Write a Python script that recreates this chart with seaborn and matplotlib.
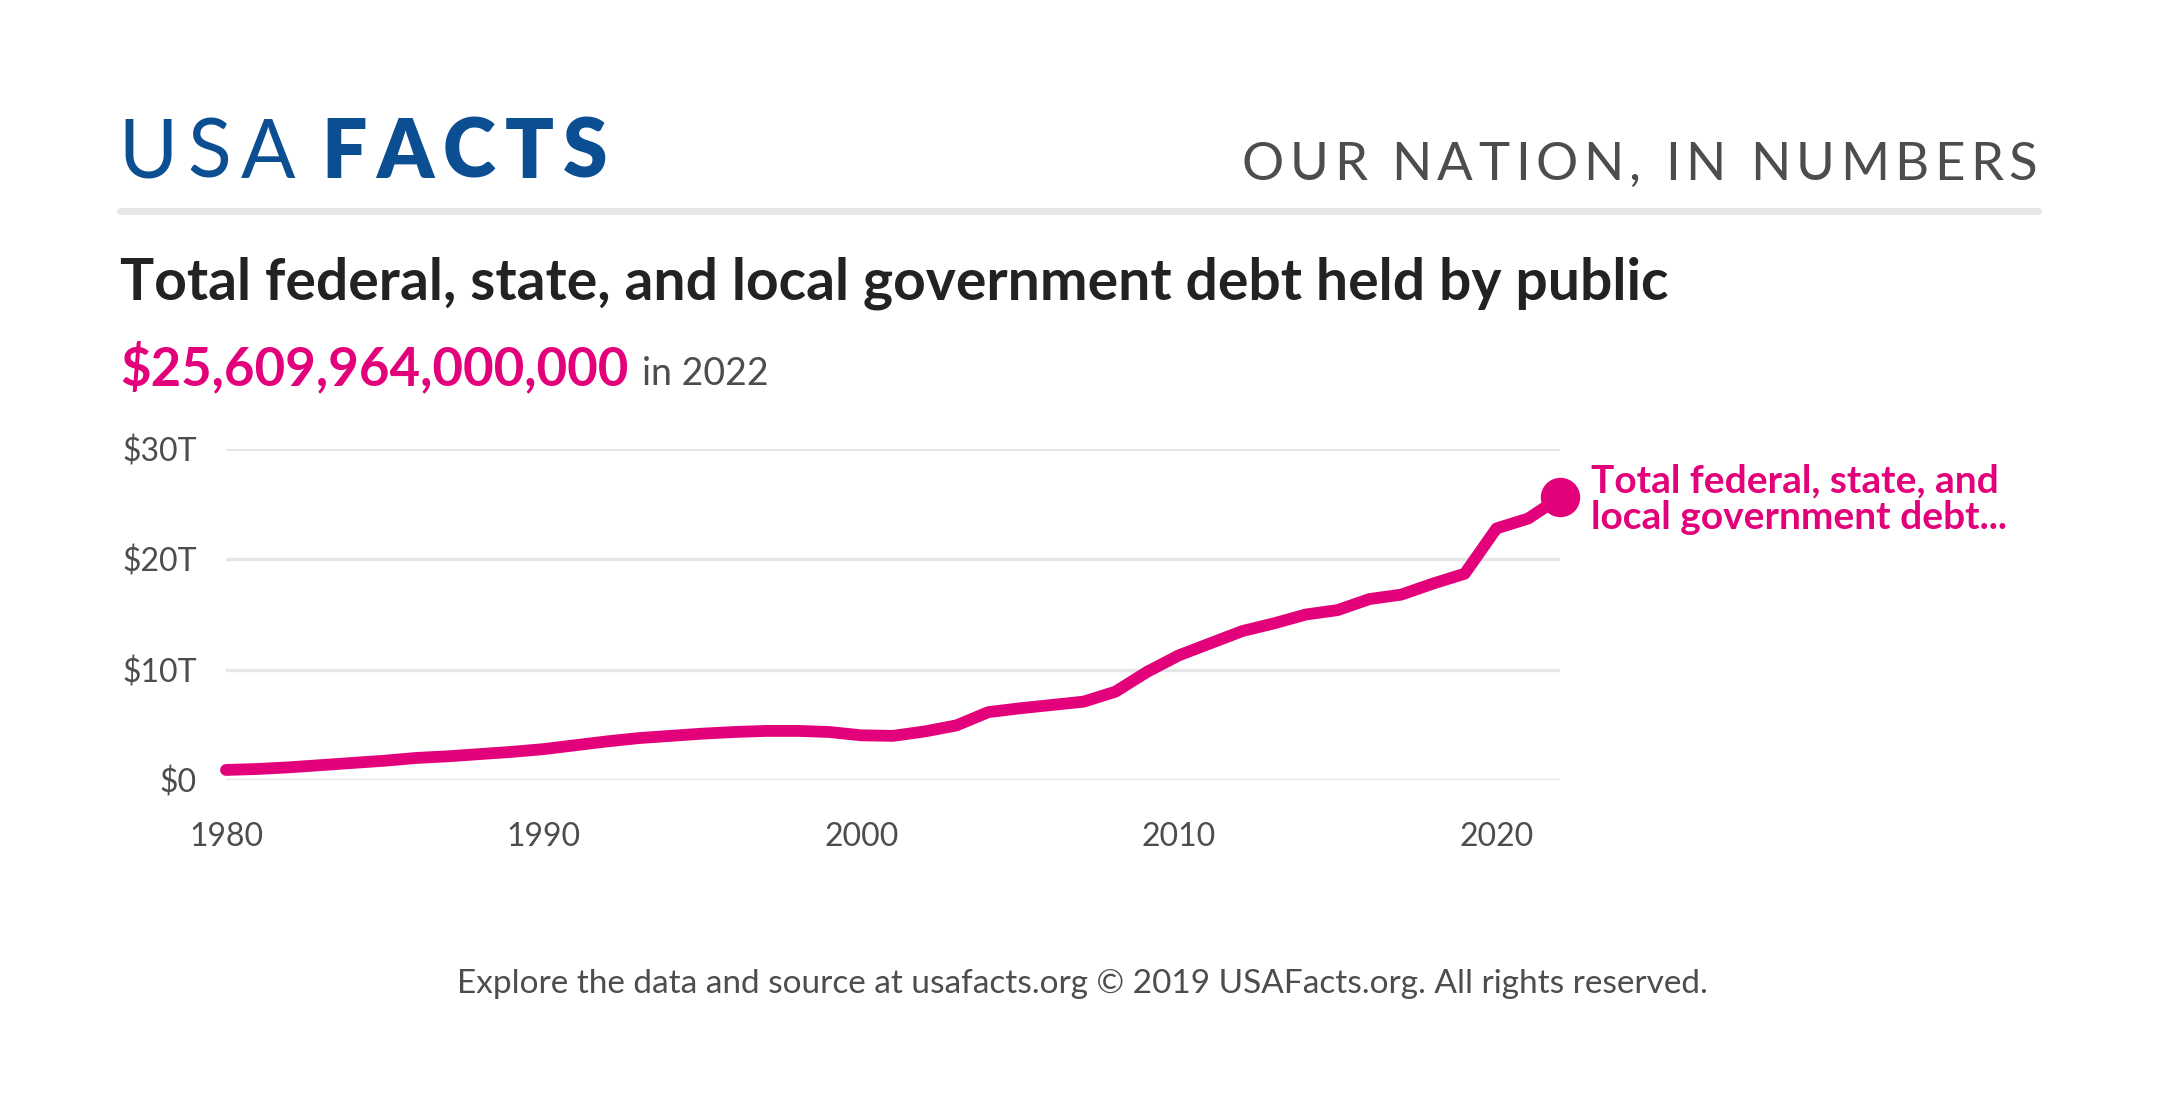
import matplotlib
matplotlib.use("Agg")
import matplotlib.pyplot as plt
import seaborn as sns
import pandas as pd

years = list(range(1980, 2023))
debt_trillions = [0.91, 1.0, 1.15, 1.35, 1.55, 1.75, 2.0, 2.15, 2.35, 2.55,
                  2.8, 3.15, 3.5, 3.8, 4.0, 4.2, 4.35, 4.45, 4.45, 4.35,
                  4.05, 4.0, 4.4, 4.95, 6.15, 6.5, 6.8, 7.1, 8.0, 9.8,
                  11.3, 12.4, 13.5, 14.2, 15.0, 15.4, 16.4, 16.8, 17.8, 18.7,
                  22.8, 23.7, 25.61]
y_ticks = [0, 10, 20, 30]
y_tick_labels = ["$0", "$10T", "$20T", "$30T"]
x_ticks = [1980, 1990, 2000, 2010, 2020]

PINK = "#e3007b"
BLUE = "#0b4f92"
DARK = "#222222"
GRAY = "#4d4d4d"

sns.set_theme(style="white")
plt.rcParams['font.family'] = ['Lato', 'DejaVu Sans']

df = pd.DataFrame({"year": years, "debt": debt_trillions})

W, H = 2160, 1107
fig = plt.figure(figsize=(W / 100, H / 100), dpi=100)
ax = fig.add_axes([226 / W, 1 - 780 / H, (1560 - 226) / W, (780 - 449) / H])

for t in y_ticks:
    ax.axhline(t, color="#e6e6e6", lw=2.4, zorder=0)

sns.lineplot(data=df, x="year", y="debt", color=PINK, lw=8.5, ax=ax,
             solid_capstyle="round", clip_on=False, zorder=3)
ax.scatter([years[-1]], [debt_trillions[-1]], s=750, color=PINK, zorder=4, clip_on=False)

ax.annotate("Total federal, state, and\nlocal government debt...",
            xy=(years[-1], debt_trillions[-1]), xytext=(22, -1),
            textcoords="offset points", ha="left", va="center",
            color=PINK, fontsize=28, fontweight="bold", linespacing=1.05)

ax.set_xlim(1980, 2022)
ax.set_ylim(0, 30)
ax.set_xticks(x_ticks)
ax.set_xticklabels([str(x) for x in x_ticks])
ax.set_yticks(y_ticks)
ax.set_yticklabels(y_tick_labels)
ax.tick_params(axis="both", length=0, labelsize=23, labelcolor=GRAY)
ax.tick_params(axis="y", pad=21)
ax.tick_params(axis="x", pad=30)
ax.set_xlabel("")
ax.set_ylabel("")
for s in ax.spines.values():
    s.set_visible(False)
ax.grid(False)

fig.canvas.draw()
renderer = fig.canvas.get_renderer()


def text_width(s, **kw):
    t = fig.text(0, 0, s, **kw)
    w = t.get_window_extent(renderer).width
    t.remove()
    return w


def tracked_text(x0, y, s, target_w, **kw):
    # letter-spaced text: spread characters so the string spans target_w pixels
    bar = text_width("|", **kw)
    starts = [text_width(s[:i] + "|", **kw) - bar for i in range(len(s))]
    track = (target_w - text_width(s, **kw)) / (len(s) - 1)
    for i, ch in enumerate(s):
        if ch != " ":
            fig.text((x0 + starts[i] + i * track) / W, y, ch, va="baseline", **kw)


# header
tracked_text(118, 1 - 178 / H, "USA", 177, color=BLUE, fontsize=58, fontweight="normal")
tracked_text(321, 1 - 178 / H, "FACTS", 287, color=BLUE, fontsize=58, fontweight="heavy")
tracked_text(1242, 1 - 180 / H, "OUR NATION, IN NUMBERS", 795, color=GRAY, fontsize=38,
             fontweight="normal")
fig.add_artist(plt.Line2D([120 / W, 2038 / W], [1 - 211 / H, 1 - 211 / H],
                          color="#e6e6e6", lw=5, transform=fig.transFigure))

fig.text(120 / W, 1 - 300 / H,
         "Total federal, state, and local government debt held by public",
         color=DARK, fontsize=41, fontweight="bold", va="baseline")
amount = fig.text(120 / W, 1 - 385 / H, "$25,609,964,000,000", color=PINK,
                  fontsize=38, fontweight="bold", va="baseline")
bb = amount.get_window_extent(renderer)
fig.text((bb.x1 + 14) / W, 1 - 385 / H, "in 2022", color=GRAY,
         fontsize=27, va="baseline")

fig.text(1082 / W, 1 - 993 / H,
         "Explore the data and source at usafacts.org \u00a9 2019 USAFacts.org. All rights reserved.",
         color=GRAY, fontsize=24, ha="center", va="baseline")

fig.savefig("out.png", dpi=100, facecolor="white")
